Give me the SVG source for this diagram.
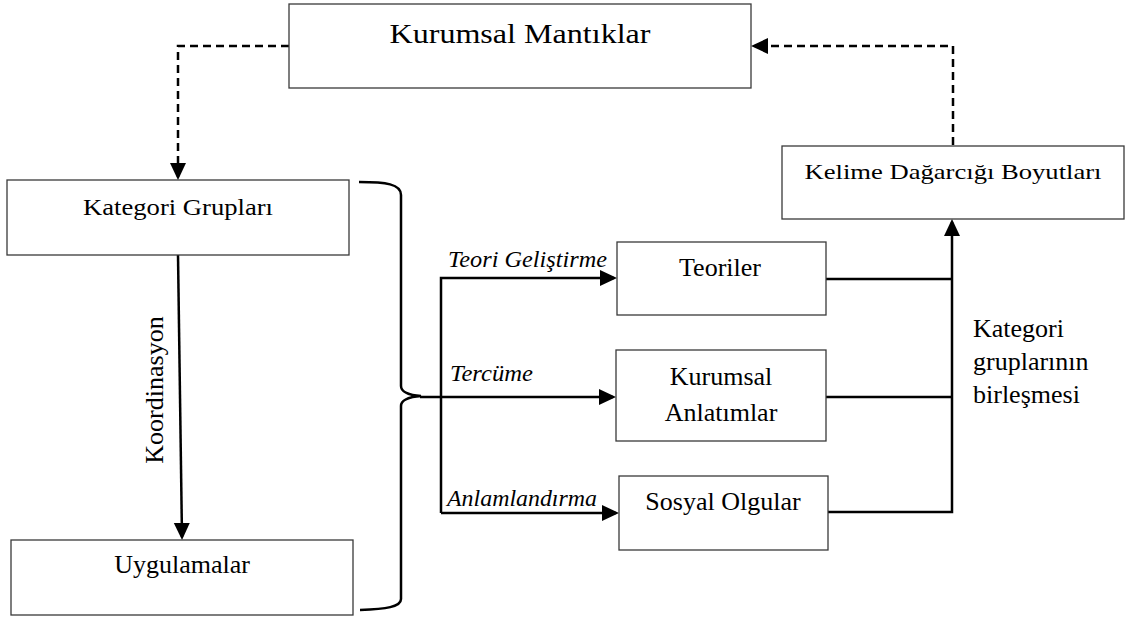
<svg xmlns="http://www.w3.org/2000/svg" width="1125" height="619" viewBox="0 0 1125 619">
<style>
.box{fill:#fff;stroke:#3a3a3a;stroke-width:1.3}
.t{fill:#000;text-anchor:middle}
.l{fill:#000}
.it{font-style:italic;fill:#000}
.ln{fill:none;stroke:#000;stroke-width:2.5}
.dash{fill:none;stroke:#000;stroke-width:2.5;stroke-dasharray:8 5}
</style>
<defs>
<marker id="ah" markerWidth="18" markerHeight="18" refX="14" refY="8" orient="auto" markerUnits="userSpaceOnUse">
<path d="M0,0 L17,8 L0,16 z" fill="#000"/>
</marker>
</defs>
<rect width="1125" height="619" fill="#fff"/>
<g id="connectors">
<path class="dash" d="M289,46 L178,46 L178,177" marker-end="url(#ah)"/>
<path class="dash" d="M953,145 L953,46 L754,46" marker-end="url(#ah)"/>
<path class="ln" d="M178,255 L182,537" marker-end="url(#ah)"/>
<path class="ln" d="M359,182 C386,182 401,184 401,195 L401,386 C401,392 408,395 421,396 C408,397 401,400 401,406 L401,599 C401,607 386,609 360,610"/>
<path class="ln" d="M441,513 L441,278 L614,278" marker-end="url(#ah)"/>
<path class="ln" d="M420,397 L613,397" marker-end="url(#ah)"/>
<path class="ln" d="M441,513 L616,513" marker-end="url(#ah)"/>
<path class="ln" d="M826,279 L952,279"/>
<path class="ln" d="M826,397 L952,397"/>
<path class="ln" d="M828,512 L952,512 L952,222" marker-end="url(#ah)"/>
<text class="it" font-family="'Liberation Serif', serif" x="448" y="267" font-size="24" textLength="159" lengthAdjust="spacingAndGlyphs">Teori Geliştirme</text>
<text class="it" font-family="'Liberation Serif', serif" x="450" y="381" font-size="24" textLength="83" lengthAdjust="spacingAndGlyphs">Tercüme</text>
<text class="it" font-family="'Liberation Serif', serif" x="447" y="506" font-size="24" textLength="150" lengthAdjust="spacingAndGlyphs">Anlamlandırma</text>
<text class="t" font-family="'Liberation Serif', serif" transform="translate(163,390) rotate(-90)" font-size="26">Koordinasyon</text>
<text class="l" font-family="'Liberation Serif', serif" x="973" y="337" font-size="26">Kategori</text>
<text class="l" font-family="'Liberation Serif', serif" x="973" y="370" font-size="26">gruplarının</text>
<text class="l" font-family="'Liberation Serif', serif" x="973" y="403" font-size="26">birleşmesi</text>
</g>
<g id="kurumsal-mantiklar">
<rect class="box" x="289" y="4" width="462" height="84"/>
<text class="t" font-family="'Liberation Serif', serif" x="520" y="43" font-size="28" textLength="261" lengthAdjust="spacingAndGlyphs">Kurumsal  Mantıklar</text>
</g>
<g id="kelime-dagarcigi">
<rect class="box" x="782" y="146" width="342" height="73"/>
<text class="t" font-family="'Liberation Serif', serif" x="953" y="179" font-size="22" textLength="297" lengthAdjust="spacingAndGlyphs">Kelime Dağarcığı Boyutları</text>
</g>
<g id="kategori-gruplari">
<rect class="box" x="7" y="180" width="342" height="75"/>
<text class="t" font-family="'Liberation Serif', serif" x="178" y="215" font-size="23" textLength="190" lengthAdjust="spacingAndGlyphs">Kategori Grupları</text>
</g>
<g id="uygulamalar">
<rect class="box" x="11" y="540" width="342" height="75"/>
<text class="t" font-family="'Liberation Serif', serif" x="182" y="573" font-size="26">Uygulamalar</text>
</g>
<g id="teoriler">
<rect class="box" x="617" y="242" width="209" height="73"/>
<text class="t" font-family="'Liberation Serif', serif" x="720" y="276" font-size="26">Teoriler</text>
</g>
<g id="kurumsal-anlatimlar">
<rect class="box" x="616" y="350" width="210" height="91"/>
<text class="t" font-family="'Liberation Serif', serif" x="721" y="385" font-size="26">Kurumsal</text>
<text class="t" font-family="'Liberation Serif', serif" x="721" y="421" font-size="26">Anlatımlar</text>
</g>
<g id="sosyal-olgular">
<rect class="box" x="619" y="476" width="209" height="74"/>
<text class="t" font-family="'Liberation Serif', serif" x="723" y="510" font-size="26">Sosyal Olgular</text>
</g>
</svg>
